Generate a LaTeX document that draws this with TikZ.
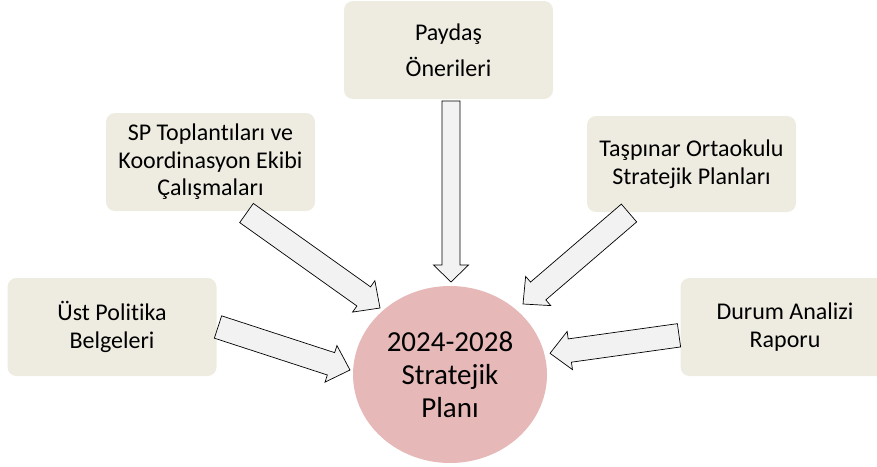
\documentclass[tikz,border=0pt]{standalone}
\usepackage{fontspec}
\setmainfont{Carlito}[Ligatures=NoCommon]
\usetikzlibrary{calc,shapes.geometric}
\definecolor{boxfill}{HTML}{EEECE1}
\definecolor{circfill}{HTML}{E6B9B8}
\definecolor{arrfill}{HTML}{F2F2F2}
\tikzset{
  srcbox/.style={rectangle, rounded corners=9pt, fill=boxfill, draw=none,
    minimum width=209pt, minimum height=98pt, inner sep=0pt, align=center,
    font=\fontsize{24}{27.5}\selectfont},
  planbox/.style={ellipse, fill=circfill, draw=none, minimum width=194pt,
    minimum height=177pt, inner sep=0pt, align=center,
    font=\fontsize{29}{33}\selectfont},
  blkarr/.style={fill=arrfill, draw=black, line width=0.7pt, line join=miter}
}
% #1 start, #2 tip, #3 shaft half width, #4 head half width, #5 head length
\newcommand{\blkarrow}[5]{%
  \coordinate (h-#1) at ($(#2)!#5!(#1)$);
  \draw[blkarr] ($(#1)!#3!90:(#2)$) -- ($(h-#1)!#3!90:(#2)$) -- ($(h-#1)!#4!90:(#2)$)
    -- (#2) -- ($(h-#1)!#4!-90:(#2)$) -- ($(h-#1)!#3!-90:(#2)$) -- ($(#1)!#3!-90:(#2)$) -- cycle;
}
\begin{document}
\begin{tikzpicture}[x=1pt,y=-1pt]
\useasboundingbox (0,0) rectangle (877,466);
\begin{scope}
\clip (0,0) rectangle (877,466);
\node[srcbox] (pay) at (448.5,50) {Paydaş\\[8pt]Önerileri};
\node[srcbox] (sp) at (210.5,162) {SP Toplantıları ve\\Koordinasyon Ekibi\\Çalışmaları};
\node[srcbox, minimum height=96pt] (tas) at (691.5,164) {Taşpınar Ortaokulu\\Stratejik Planları};
\node[srcbox] (ust) at (112,327) {Üst Politika\\Belgeleri};
\node[srcbox] (dur) at (785,327) {Durum Analizi\\Raporu};
\node[planbox] (plan) at (450,374.5) {2024-2028\\Stratejik\\Planı};

\coordinate (payS) at (451,101);
\coordinate (payT) at (451,282);
\coordinate (spS) at (246.5,213);
\coordinate (spT) at (380,308);
\coordinate (tasS) at (629,213);
\coordinate (tasT) at (523,304);
\coordinate (ustS) at (218,327);
\coordinate (ustT) at (350,370);
\coordinate (durS) at (679,335.3);
\coordinate (durT) at (550,353.3);

\blkarrow{payS}{payT}{9pt}{17.5pt}{17pt}
\blkarrow{spS}{spT}{11.75pt}{19.25pt}{20pt}
\blkarrow{tasS}{tasT}{11.75pt}{19.25pt}{20pt}
\blkarrow{ustS}{ustT}{11.75pt}{19.25pt}{20pt}
\blkarrow{durS}{durT}{11.75pt}{19.25pt}{20pt}
\end{scope}
\end{tikzpicture}
\end{document}
